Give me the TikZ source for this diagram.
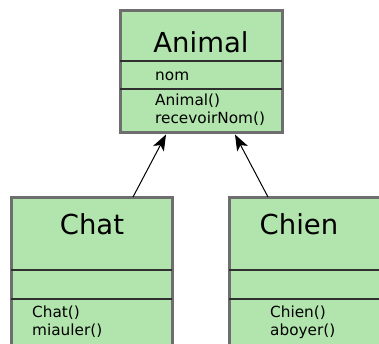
\documentclass[tikz,border=0pt]{standalone}
\usepackage{fontspec}
\setmainfont{DejaVu Sans}
\usetikzlibrary{arrows.meta}
\definecolor{boxfill}{HTML}{B2E5AD}
\definecolor{boxborder}{HTML}{6E6E6E}
\definecolor{divline}{HTML}{303030}
\tikzset{
  classbox/.style={draw=boxborder, fill=boxfill, line width=3pt, rectangle, inner sep=0pt},
  divider/.style={draw=divline, line width=1.1pt},
  titletext/.style={font=\fontsize{27.5}{32}\selectfont, anchor=base, inner sep=0pt},
  membertext/.style={font=\fontsize{15.3}{18}\selectfont, anchor=base west, inner sep=0pt},
  inherit/.style={draw=black, line width=1pt, -{Stealth[length=16pt,width=12pt,inset=4pt]}}
}
\begin{document}
\begin{tikzpicture}[x=1pt,y=-1pt]
\useasboundingbox (0,0) rectangle (379,343);
\clip (0,0) rectangle (379,343);
% Animal
\node[classbox, minimum width=162pt, minimum height=122pt] (animal) at (201,71) {};
\draw[divider] ([xshift=1.5pt]animal.west |- 0,61) -- ([xshift=-1.5pt]animal.east |- 0,61);
\draw[divider] ([xshift=1.5pt]animal.west |- 0,89) -- ([xshift=-1.5pt]animal.east |- 0,89);
\node[titletext] (animaltitle) at (201,52) {Animal};
\node[membertext] (animalnom) at (155,80) {nom};
\node[membertext] (animalctor) at (155,105) {Animal()};
\node[membertext] (animalrecv) at (155,123) {recevoirNom()};
% Chat
\node[classbox, minimum width=161pt, minimum height=193pt] (chat) at (91.5,293.5) {};
\draw[divider] ([xshift=1.5pt]chat.west |- 0,270) -- ([xshift=-1.5pt]chat.east |- 0,270);
\draw[divider] ([xshift=1.5pt]chat.west |- 0,299) -- ([xshift=-1.5pt]chat.east |- 0,299);
\node[titletext] (chattitle) at (92,234) {Chat};
\node[membertext] (chatctor) at (32,317) {Chat()};
\node[membertext] (chatmiau) at (32,335) {miauler()};
% Chien
\node[classbox, minimum width=161pt, minimum height=193pt] (chien) at (309.5,293.5) {};
\draw[divider] ([xshift=1.5pt]chien.west |- 0,270) -- ([xshift=-1.5pt]chien.east |- 0,270);
\draw[divider] ([xshift=1.5pt]chien.west |- 0,299) -- ([xshift=-1.5pt]chien.east |- 0,299);
\node[titletext] (chientitle) at (299,234) {Chien};
\node[membertext] (chienctor) at (270,317) {Chien()};
\node[membertext] (chienaboy) at (270,335) {aboyer()};
% inheritance arrows
\draw[inherit] ([xshift=41.5pt,yshift=-1.5pt]chat.north) -- ([xshift=-35pt,yshift=-1pt]animal.south);
\draw[inherit] ([xshift=-41.5pt,yshift=-1.5pt]chien.north) -- ([xshift=34pt,yshift=-1pt]animal.south);
\end{tikzpicture}
\end{document}
